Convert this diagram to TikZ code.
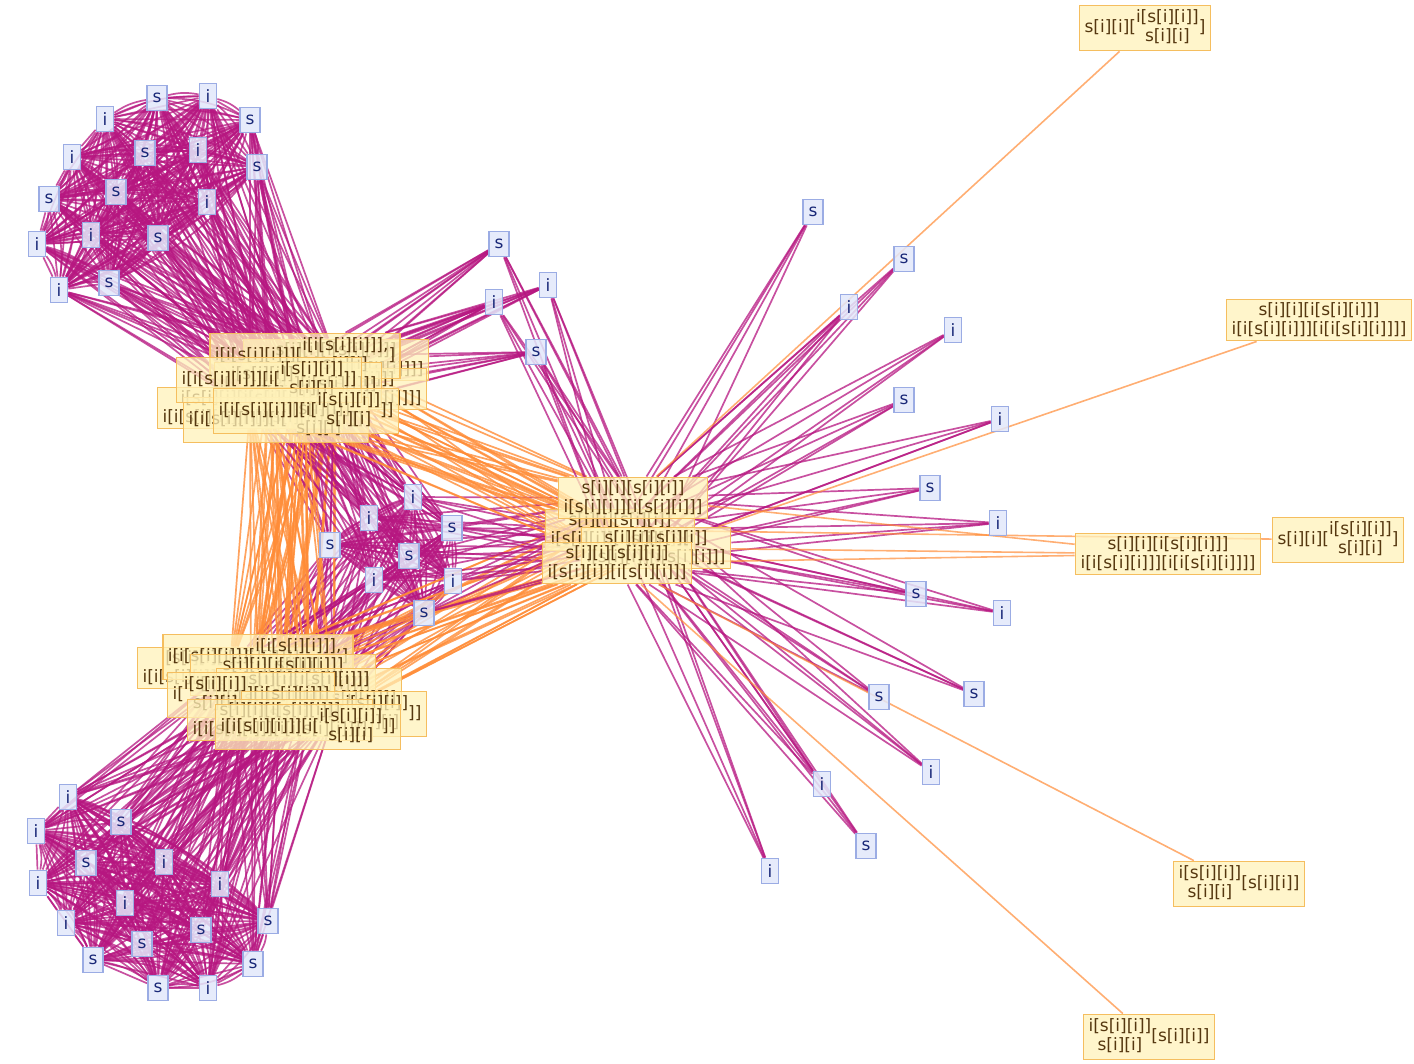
\documentclass[tikz,border=0pt]{standalone}
\usepackage{fontspec}
\setmainfont{DejaVu Sans}
\usepackage{tikz}
\usetikzlibrary{backgrounds}
\definecolor{edgemag}{RGB}{182,22,128}
\definecolor{edgeora}{RGB}{255,140,55}
\definecolor{leafbg}{RGB}{226,232,250}
\definecolor{leafbd}{RGB}{155,172,228}
\definecolor{leaftx}{RGB}{25,40,120}
\definecolor{termbg}{RGB}{255,242,186}
\definecolor{termbd}{RGB}{245,190,95}
\definecolor{termtx}{RGB}{85,55,15}
\newcommand{\stk}[2]{\begin{tabular}{@{}c@{}}#1\\#2\end{tabular}}
\newcommand{\labA}{i[i[s[i][i]]][i[\stk{i[s[i][i]]}{s[i][i]}]]}
\newcommand{\labB}{i[\stk{i[s[i][i]]}{s[i][i]}][i[s[i][i]]]}
\newcommand{\labC}{i[i[s[i][i]]][\stk{i[i[s[i][i]]],}{s[i][i]}]}
\newcommand{\labD}{s[i][i][i[s[i][i]]]\\i[i[s[i][i]]][i[i[s[i][i]]]]}
\newcommand{\labE}{i[s[i][i][i[s[i][i]]]]\\i[i[s[i][i]]][i[i[s[i][i]]]]}
\newcommand{\labH}{s[i][i][s[i][i]]\\i[s[i][i]][i[s[i][i]]]}
\newcommand{\labP}{s[i][i][\stk{i[s[i][i]]}{s[i][i]}]}
\newcommand{\labQ}{\stk{i[s[i][i]]}{s[i][i]}[s[i][i]]}
\tikzset{
  leaf/.style={draw=leafbd, line width=1.8pt, fill=leafbg, fill opacity=0.85, text opacity=1,
    text=leaftx, font=\fontsize{17}{19}\selectfont, inner xsep=5.5pt, minimum width=17pt, minimum height=25pt},
  term/.style={draw=termbd, line width=1.8pt, fill=termbg, fill opacity=0.75, text opacity=1,
    text=termtx, font=\fontsize{17}{19}\selectfont, inner xsep=5pt, inner ysep=3.5pt, align=center},
  mag/.style={draw=edgemag, draw opacity=0.75, line width=1.7pt},
  ora/.style={draw=edgeora, draw opacity=0.8, line width=1.7pt},
  far/.style={draw=edgeora, draw opacity=0.7, line width=1.6pt},
}
\begin{document}
\begin{tikzpicture}[x=1pt,y=-1pt]
\useasboundingbox (0,0) rectangle (1414,1064);
% small leaves
\foreach \n/\t/\x/\y in {1/i/105/119,2/s/157/98,3/i/208/96,4/s/250/120,5/i/72/157,6/s/145/153,
  7/i/198/150,8/s/257/167,9/s/49/199,10/s/116/192,11/i/207/202,12/i/37/244,13/i/91/235,
  14/s/158/238,15/i/59/290,16/s/109/283}
  \node[leaf] (a\n) at (\x,\y) {\t};
\foreach \n/\t/\x/\y in {1/i/68/797,2/i/36/831,3/s/121/822,4/s/86/863,5/i/164/862,6/i/38/883,
  7/i/220/884,8/i/125/903,9/i/66/923,10/s/268/921,11/s/201/930,12/s/142/944,13/s/93/960,
  14/s/253/964,15/s/158/988,16/i/208/988}
  \node[leaf] (b\n) at (\x,\y) {\t};
\foreach \n/\t/\x/\y in {1/s/330/545,2/i/369/518,3/i/413/497,4/s/452/528,5/s/409/556,
  6/i/374/580,7/i/453/581,8/s/424/613}
  \node[leaf] (m\n) at (\x,\y) {\t};
\foreach \n/\t/\x/\y in {1/s/499/244,2/i/548/285,3/i/494/302,4/s/536/352}
  \node[leaf] (u\n) at (\x,\y) {\t};
\foreach \n/\t/\x/\y in {1/s/813/212,2/s/904/259,3/i/849/307,4/i/953/330,5/s/904/400,
  6/i/1000/419,7/s/930/488,8/i/998/523,9/s/916/594,10/i/1002/613,11/s/974/694,12/s/879/697,
  13/i/931/772,14/i/822/784,15/s/866/846,16/i/770/871}
  \node[leaf] (r\n) at (\x,\y) {\t};
% upper terms
\node[term] (y1) at (336,360) {\labD};
\node[term] (y3) at (334,389) {\labD};
\node[term] (y2) at (305,356) {\labC};
\node[term] (y4) at (298,385) {\labB};
\node[term] (y5) at (250,408) {\labE};
\node[term] (y6) at (276,420) {\labA};
\node[term] (y7) at (269,380) {\labA};
\node[term] (y8) at (306,411) {\labA};
% lower terms
\node[term] (z1) at (230,668) {\labE};
\node[term] (z2) at (258,657) {\labC};
\node[term] (z3) at (283,675) {\labD};
\node[term] (z4) at (309,689) {\labD};
\node[term] (z5) at (251,695) {\labB};
\node[term] (z6) at (334,714) {\labA};
\node[term] (z7) at (280,720) {\labD};
\node[term] (z8) at (308,727) {\labA};
% hub
\node[term] (h2) at (620,530) {\labH};
\node[term] (h1) at (633,498) {\labH};
\node[term] (h3) at (656,548) {\labH};
\node[term] (h4) at (617,563) {\labH};
% outer terms
\node[term] (o1) at (1145,28) {\labP};
\node[term] (o2) at (1319,320) {\labD};
\node[term] (o3) at (1168,554) {\labD};
\node[term] (o4) at (1338,540) {\labP};
\node[term] (o5) at (1239,884) {\labQ};
\node[term] (o6) at (1149,1037) {\labQ};
\begin{pgfonlayer}{background}
  % dense clusters
  \foreach \i in {1,...,15}{
    \pgfmathtruncatemacro{\k}{\i+1}
    \foreach \j in {\k,...,16}{
      \draw[mag] (a\i) -- (a\j);
      \draw[mag] (a\i) to[bend left=12] (a\j);
      \draw[mag] (b\i) -- (b\j);
      \draw[mag] (b\i) to[bend left=12] (b\j);
    }}
  \foreach \i in {1,...,7}{
    \pgfmathtruncatemacro{\k}{\i+1}
    \foreach \j in {\k,...,8}{
      \draw[mag] (m\i) -- (m\j);
      \draw[mag] (m\i) to[bend left=10] (m\j);
    }}
  \foreach \i in {1,...,16}
    \foreach \j in {1,...,8}{
      \draw[mag] (a\i) -- (y\j);
      \draw[mag] (b\i) -- (z\j);
    }
  \foreach \i in {1,...,8}
    \foreach \j in {1,...,8}{
      \draw[mag] (m\i) -- (y\j);
      \draw[mag] (m\i) -- (z\j);
      \draw[ora] (y\i) -- (z\j);
    }
  \foreach \i in {1,...,8}
    \foreach \j in {1,...,4}{
      \draw[mag] (m\i) -- (h\j);
      \draw[ora] (y\i) -- (h\j);
      \draw[ora] (z\i) -- (h\j);
    }
  \foreach \i in {1,...,4}{
    \foreach \j in {1,...,8}
      \draw[mag] (u\i) -- (y\j);
    \foreach \j in {1,...,4}
      \draw[mag] (u\i) -- (h\j);
  }
  \foreach \i in {1,...,16}
    \foreach \j in {1,...,4}
      \draw[mag] (r\i) -- (h\j);
  % long arms
  \draw[far] (o1) -- (h1);
  \draw[far] (o2) -- (h3);
  \draw[far] (o3) -- (h1);
  \draw[far] (o3) -- (h3);
  \draw[far] (o3) -- (h4);
  \draw[far] (o4) -- (h2);
  \draw[far] (o5) -- (h4);
  \draw[far] (o6) -- (h4);
\end{pgfonlayer}
\end{tikzpicture}
\end{document}
